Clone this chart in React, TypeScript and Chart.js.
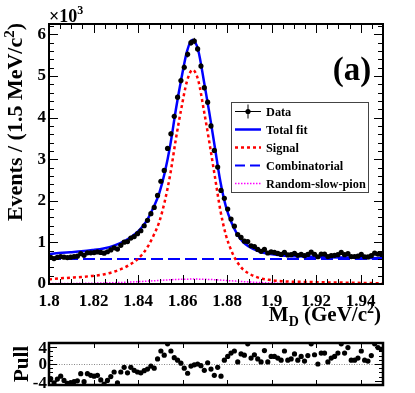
import React, { useEffect, useRef } from "react";
import { Chart, registerables } from "chart.js";

Chart.register(...registerables);

const FONT = "'Liberation Serif', 'Times New Roman', Times, serif";

const MASS_MIN = 1.8;
const MASS_MAX = 1.95;
const BIN_WIDTH = 0.0015;
const Y_MAX = 6.25;
const PULL_MIN = -5;
const PULL_MAX = 5;

const xTickValues = [1.8, 1.82, 1.84, 1.86, 1.88, 1.9, 1.92, 1.94];
const xTickLabels = ["1.8", "1.82", "1.84", "1.86", "1.88", "1.9", "1.92", "1.94"];
const yTickValues = [0, 1, 2, 3, 4, 5, 6];
const yTickLabels = ["0", "1", "2", "3", "4", "5", "6"];
const pullTickValues = [-4, 0, 4];
const pullTickLabels = ["-4", "0", "4"];

// Events per bin (x10^3), 100 bins of 1.5 MeV from 1.80 to 1.95 GeV
const dataEvents = [
  0.64, 0.61, 0.64, 0.66, 0.645, 0.635, 0.645, 0.66, 0.67, 0.73,
  0.69, 0.75, 0.75, 0.755, 0.77, 0.76, 0.74, 0.775, 0.82, 0.87,
  0.84, 0.93, 1.005, 1.02, 1.105, 1.14, 1.21, 1.28, 1.4, 1.53,
  1.69, 1.84, 2.13, 2.47, 2.73, 3.26, 3.61, 4.03, 4.49, 4.89,
  5.21, 5.52, 5.8, 5.84, 5.65, 5.24, 4.72, 4.37, 3.8, 3.21,
  2.81, 2.25, 2.06, 1.8, 1.56, 1.39, 1.19, 1.12, 1.03, 1.02,
  0.92, 0.9, 0.83, 0.785, 0.83, 0.745, 0.77, 0.76, 0.735, 0.71,
  0.76, 0.7, 0.705, 0.735, 0.69, 0.71, 0.68, 0.71, 0.765, 0.715,
  0.655, 0.72, 0.72, 0.66, 0.68, 0.69, 0.705, 0.76, 0.705, 0.73,
  0.66, 0.66, 0.67, 0.71, 0.655, 0.65, 0.68, 0.74, 0.72, 0.71,
];

const pullValues = [
  -3.5, -4.5, -3.6, -2.9, -3.9, -4.6, -4.4, -4.2, -4.0, -2.3,
  -4.2, -2.3, -2.7, -2.9, -2.7, -3.8, -4.8, -3.9, -3.0, -1.9,
  -4.5, -1.9, -0.8, -2.1, -0.8, -1.5, -1.9, -2.1, -1.6, -1.2,
  -0.5, -1.0, 1.2, 3.1, 2.1, 4.8, 3.1, 1.5, 0.9, 0.2,
  -1.0, -2.2, -0.5, -0.2, 0.0, -0.4, -1.5, 0.3, -1.2, -2.7,
  -0.8, -2.9, 0.9, 1.8, 2.6, 3.1, 0.5, 2.4, 2.1, 4.8,
  1.4, 2.2, 1.2, 0.5, 3.2, 0.5, 1.8, 1.8, 1.4, 0.9,
  3.1, 0.9, 1.2, 2.4, 0.9, 1.8, 0.7, 2.0, 4.8, 2.2,
  0.0, 2.6, 2.6, 0.5, 1.4, 1.8, 2.6, 4.8, 2.6, 3.9,
  0.9, 0.9, 1.4, 3.1, 0.9, 0.7, 2.0, 4.8, 3.9, 3.5,
];

const fitMass = [
  1.8, 1.8045, 1.8095, 1.8145, 1.8195, 1.8245, 1.8295, 1.8345, 1.8395, 1.842,
  1.8445, 1.847, 1.8495, 1.852, 1.8545, 1.857, 1.8595, 1.862, 1.8645, 1.867,
  1.8695, 1.872, 1.8745, 1.877, 1.8795, 1.882, 1.8845, 1.887, 1.8895, 1.8945,
  1.8995, 1.9045, 1.9145, 1.9245, 1.9345, 1.9445, 1.95,
];
const totalFit = [
  0.72, 0.745, 0.765, 0.785, 0.815, 0.855, 0.93, 1.05, 1.24, 1.38,
  1.58, 1.85, 2.18, 2.68, 3.35, 4.2, 4.95, 5.6, 5.87, 5.62,
  4.9, 4.12, 3.28, 2.45, 1.85, 1.47, 1.2, 1.02, 0.91, 0.78,
  0.72, 0.685, 0.66, 0.645, 0.635, 0.625, 0.62,
];
const signalFit = [
  0.11, 0.133, 0.151, 0.169, 0.195, 0.23, 0.3, 0.41, 0.585, 0.72,
  0.91, 1.17, 1.49, 1.99, 2.65, 3.49, 4.24, 4.88, 5.15, 4.9,
  4.19, 3.41, 2.58, 1.76, 1.165, 0.79, 0.53, 0.36, 0.26, 0.144,
  0.095, 0.067, 0.05, 0.039, 0.031, 0.022, 0.017,
];
const randomSlowPionFit = [
  0.01, 0.012, 0.014, 0.016, 0.02, 0.025, 0.032, 0.042, 0.055, 0.062,
  0.07, 0.078, 0.086, 0.094, 0.102, 0.108, 0.113, 0.116, 0.118, 0.117,
  0.114, 0.109, 0.102, 0.094, 0.085, 0.076, 0.067, 0.058, 0.05, 0.036,
  0.025, 0.018, 0.01, 0.006, 0.004, 0.003, 0.003,
];
const combMass = [1.8, 1.95];
const combinatorialFit = [0.6, 0.6];

const legendLabels = ["Data", "Total fit", "Signal", "Combinatorial", "Random-slow-pion"];

const binCenters = dataEvents.map((_, i) => MASS_MIN + BIN_WIDTH * (i + 0.5));

type Part = { text: string; size: number; dy?: number };

function drawRich(ctx: CanvasRenderingContext2D, parts: Part[], x: number, y: number, align: string) {
  let w = 0;
  for (const p of parts) {
    ctx.font = `bold ${p.size}px ${FONT}`;
    w += ctx.measureText(p.text).width;
  }
  let cx = align === "right" ? x - w : align === "center" ? x - w / 2 : x;
  ctx.textAlign = "left";
  ctx.textBaseline = "alphabetic";
  for (const p of parts) {
    ctx.font = `bold ${p.size}px ${FONT}`;
    ctx.fillText(p.text, cx, y + (p.dy || 0));
    cx += ctx.measureText(p.text).width;
  }
}

type FrameSpec = {
  xMajor: number[];
  xMinorStep: number;
  yMajor: number[];
  yMinorStep: number;
  xMajorLen: number;
  xMinorLen: number;
  yMajorLen: number;
  yMinorLen: number;
  frameWidth: number;
};

function makeFramePlugin(spec: FrameSpec) {
  return {
    id: "frameTicks",
    afterDatasetsDraw(chart: any) {
      const { ctx, chartArea: a } = chart;
      const xs = chart.scales.x;
      const ys = chart.scales.y;
      ctx.save();
      ctx.strokeStyle = "#000";
      ctx.lineWidth = 1;
      ctx.beginPath();
      const vTick = (v: number, len: number) => {
        const px = Math.round(xs.getPixelForValue(v)) + 0.5;
        if (px < a.left - 0.5 || px > a.right + 0.5) return;
        ctx.moveTo(px, a.bottom);
        ctx.lineTo(px, a.bottom - len);
        ctx.moveTo(px, a.top);
        ctx.lineTo(px, a.top + len);
      };
      const hTick = (v: number, len: number) => {
        const py = Math.round(ys.getPixelForValue(v)) + 0.5;
        if (py < a.top - 0.5 || py > a.bottom + 0.5) return;
        ctx.moveTo(a.left, py);
        ctx.lineTo(a.left + len, py);
        ctx.moveTo(a.right, py);
        ctx.lineTo(a.right - len, py);
      };
      if (spec.xMinorStep > 0) {
        for (let k = 0; ; k++) {
          const v = xs.min + k * spec.xMinorStep;
          if (v > xs.max + 1e-9) break;
          vTick(v, spec.xMinorLen);
        }
      }
      spec.xMajor.forEach((v) => vTick(v, spec.xMajorLen));
      if (spec.yMinorStep > 0) {
        for (let k = 0; ; k++) {
          const v = ys.min + k * spec.yMinorStep;
          if (v > ys.max + 1e-9) break;
          hTick(v, spec.yMinorLen);
        }
      }
      spec.yMajor.forEach((v) => hTick(v, spec.yMajorLen));
      ctx.stroke();
      ctx.lineWidth = spec.frameWidth;
      ctx.strokeRect(a.left, a.top, a.right - a.left, a.bottom - a.top);
      ctx.restore();
    },
  };
}

const errorBarPlugin = {
  id: "errorBars",
  beforeDatasetDraw(chart: any, args: any) {
    if (args.index !== 0) return;
    const { ctx } = chart;
    const ys = chart.scales.y;
    const meta = chart.getDatasetMeta(0);
    ctx.save();
    ctx.strokeStyle = "#000";
    ctx.lineWidth = 1;
    ctx.beginPath();
    meta.data.forEach((pt: any, i: number) => {
      const v = dataEvents[i];
      const err = Math.sqrt(v * 1000) / 1000;
      const y1 = ys.getPixelForValue(v + err);
      const y2 = ys.getPixelForValue(v - err);
      ctx.moveTo(pt.x, y1);
      ctx.lineTo(pt.x, y2);
    });
    ctx.stroke();
    ctx.restore();
  },
};

const mainTextPlugin = {
  id: "mainText",
  afterDraw(chart: any) {
    const ctx: CanvasRenderingContext2D = chart.ctx;
    ctx.save();
    ctx.fillStyle = "#000";
    // y title
    ctx.save();
    ctx.translate(22, 23);
    ctx.rotate(-Math.PI / 2);
    drawRich(
      ctx,
      [
        { text: "Events / (1.5 MeV/c", size: 22 },
        { text: "2", size: 15, dy: -8 },
        { text: ")", size: 22 },
      ],
      0,
      0,
      "right"
    );
    ctx.restore();
    // x title
    drawRich(
      ctx,
      [
        { text: "M", size: 21 },
        { text: "D", size: 14, dy: 5 },
        { text: " (GeV/c", size: 21 },
        { text: "2", size: 14, dy: -8 },
        { text: ")", size: 21 },
      ],
      381,
      321,
      "right"
    );
    // exponent
    drawRich(
      ctx,
      [
        { text: "\u00d710", size: 18 },
        { text: "3", size: 12, dy: -8 },
      ],
      49,
      22,
      "left"
    );
    // panel label
    drawRich(ctx, [{ text: "(a)", size: 33 }], 352, 80, "center");

    // legend
    const lx = 231.5, ly = 102.5, lw = 137, lh = 90;
    ctx.fillStyle = "#fff";
    ctx.fillRect(lx, ly, lw, lh);
    ctx.strokeStyle = "#444";
    ctx.lineWidth = 1;
    ctx.strokeRect(lx, ly, lw, lh);
    const sx0 = 235, sx1 = 261;
    legendLabels.forEach((label, k) => {
      const cy = 111.5 + 18 * k;
      ctx.save();
      ctx.setLineDash([]);
      if (k === 0) {
        ctx.strokeStyle = "#000";
        ctx.lineWidth = 1;
        ctx.beginPath();
        ctx.moveTo(sx0, cy);
        ctx.lineTo(sx1, cy);
        ctx.moveTo((sx0 + sx1) / 2, cy - 7);
        ctx.lineTo((sx0 + sx1) / 2, cy + 7);
        ctx.stroke();
        ctx.fillStyle = "#000";
        ctx.beginPath();
        ctx.arc((sx0 + sx1) / 2, cy, 2.6, 0, Math.PI * 2);
        ctx.fill();
      } else {
        if (k === 1) { ctx.strokeStyle = "#0000ff"; ctx.lineWidth = 2.5; }
        if (k === 2) { ctx.strokeStyle = "#ff0000"; ctx.lineWidth = 2.5; ctx.setLineDash([3, 3]); }
        if (k === 3) { ctx.strokeStyle = "#0000ff"; ctx.lineWidth = 2; ctx.setLineDash([10, 5]); }
        if (k === 4) { ctx.strokeStyle = "#ff00ff"; ctx.lineWidth = 1.5; ctx.setLineDash([1.5, 1.5]); }
        ctx.beginPath();
        ctx.moveTo(sx0, cy);
        ctx.lineTo(sx1, cy);
        ctx.stroke();
      }
      ctx.restore();
      ctx.fillStyle = "#000";
      ctx.font = `bold 12.3px ${FONT}`;
      ctx.textAlign = "left";
      ctx.textBaseline = "middle";
      ctx.fillText(label, 266, cy + 1);
    });
    ctx.restore();
  },
};

const pullTextPlugin = {
  id: "pullText",
  beforeDatasetsDraw(chart: any) {
    const { ctx, chartArea: a } = chart;
    const ys = chart.scales.y;
    const py = Math.round(ys.getPixelForValue(0)) + 0.5;
    ctx.save();
    ctx.strokeStyle = "#888";
    ctx.lineWidth = 1;
    ctx.setLineDash([1, 1.5]);
    ctx.beginPath();
    ctx.moveTo(a.left, py);
    ctx.lineTo(a.right, py);
    ctx.stroke();
    ctx.restore();
  },
  afterDraw(chart: any) {
    const ctx: CanvasRenderingContext2D = chart.ctx;
    const ys = chart.scales.y;
    const a = chart.chartArea;
    ctx.save();
    ctx.fillStyle = "#000";
    ctx.font = `bold 17px ${FONT}`;
    ctx.textAlign = "right";
    ctx.textBaseline = "middle";
    pullTickValues.forEach((v, i) => {
      ctx.fillText(pullTickLabels[i], a.left - 2, ys.getPixelForValue(v) + (v < 0 ? 3 : 1));
    });
    ctx.translate(28, 32);
    ctx.rotate(-Math.PI / 2);
    drawRich(ctx, [{ text: "Pull", size: 21 }], 0, 0, "center");
    ctx.restore();
  },
};

const tickFont = { family: FONT, size: 17, weight: "bold" as const };

export default function App() {
  const mainRef = useRef<HTMLCanvasElement>(null);
  const pullRef = useRef<HTMLCanvasElement>(null);

  useEffect(() => {
    const mainChart = new Chart(mainRef.current as HTMLCanvasElement, {
      type: "scatter",
      data: {
        datasets: [
          {
            label: "Data",
            data: binCenters.map((m, i) => ({ x: m, y: dataEvents[i] })),
            showLine: false,
            pointRadius: 2.6,
            pointBackgroundColor: "#000",
            pointBorderColor: "#000",
            pointBorderWidth: 0,
          },
          {
            label: "Total fit",
            data: fitMass.map((m, i) => ({ x: m, y: totalFit[i] })),
            showLine: true,
            pointRadius: 0,
            borderColor: "#0000ff",
            borderWidth: 2.5,
            cubicInterpolationMode: "monotone",
          },
          {
            label: "Signal",
            data: fitMass.map((m, i) => ({ x: m, y: signalFit[i] })),
            showLine: true,
            pointRadius: 0,
            borderColor: "#ff0000",
            borderWidth: 2.5,
            borderDash: [3, 3],
            cubicInterpolationMode: "monotone",
          },
          {
            label: "Combinatorial",
            data: combMass.map((m, i) => ({ x: m, y: combinatorialFit[i] })),
            showLine: true,
            pointRadius: 0,
            borderColor: "#0000ff",
            borderWidth: 2,
            borderDash: [12, 5],
          },
          {
            label: "Random-slow-pion",
            data: fitMass.map((m, i) => ({ x: m, y: randomSlowPionFit[i] })),
            showLine: true,
            pointRadius: 0,
            borderColor: "#ff00ff",
            borderWidth: 1.5,
            borderDash: [1.5, 1.5],
            cubicInterpolationMode: "monotone",
          },
        ] as any,
      },
      options: {
        animation: false,
        responsive: false,
        devicePixelRatio: 1,
        layout: { padding: { top: 24, right: 32, left: 0, bottom: 0 } },
        plugins: { legend: { display: false }, tooltip: { enabled: false } },
        scales: {
          x: {
            type: "linear",
            min: MASS_MIN,
            max: MASS_MAX,
            grid: { display: false, drawTicks: false },
            border: { display: false },
            afterBuildTicks: (s: any) => {
              s.ticks = xTickValues.map((v) => ({ value: v }));
            },
            afterFit: (s: any) => {
              s.height = 48;
            },
            ticks: {
              autoSkip: false,
              maxRotation: 0,
              padding: 7,
              color: "#000",
              font: tickFont,
              callback: (_v: any, i: number) => xTickLabels[i],
            },
          },
          y: {
            type: "linear",
            min: 0,
            max: Y_MAX,
            grid: { display: false, drawTicks: false },
            border: { display: false },
            afterBuildTicks: (s: any) => {
              s.ticks = yTickValues.map((v) => ({ value: v }));
            },
            afterFit: (s: any) => {
              s.width = 49;
            },
            ticks: {
              autoSkip: false,
              padding: 3,
              color: "#000",
              font: tickFont,
              callback: (_v: any, i: number) => yTickLabels[i],
            },
          },
        },
      } as any,
      plugins: [
        errorBarPlugin,
        makeFramePlugin({
          xMajor: xTickValues,
          xMinorStep: 0.005,
          yMajor: yTickValues,
          yMinorStep: 0.2,
          xMajorLen: 9,
          xMinorLen: 5,
          yMajorLen: 9,
          yMinorLen: 5,
          frameWidth: 2,
        }),
        mainTextPlugin,
      ],
    });

    const pullChart = new Chart(pullRef.current as HTMLCanvasElement, {
      type: "scatter",
      data: {
        datasets: [
          {
            label: "Pull",
            data: binCenters.map((m, i) => ({ x: m, y: pullValues[i] })),
            showLine: false,
            pointRadius: 2.6,
            pointBackgroundColor: "#000",
            pointBorderColor: "#000",
            pointBorderWidth: 0,
          },
        ],
      },
      options: {
        animation: false,
        responsive: false,
        devicePixelRatio: 1,
        layout: { padding: { top: 11, right: 32, left: 49, bottom: 8 } },
        plugins: { legend: { display: false }, tooltip: { enabled: false } },
        scales: {
          x: {
            type: "linear",
            display: false,
            min: MASS_MIN,
            max: MASS_MAX,
          },
          y: {
            type: "linear",
            display: false,
            min: PULL_MIN,
            max: PULL_MAX,
          },
        },
      } as any,
      plugins: [
        pullTextPlugin,
        makeFramePlugin({
          xMajor: xTickValues,
          xMinorStep: 0,
          yMajor: pullTickValues,
          yMinorStep: 1,
          xMajorLen: 5,
          xMinorLen: 0,
          yMajorLen: 8,
          yMinorLen: 4,
          frameWidth: 2.5,
        }),
      ],
    });

    return () => {
      mainChart.destroy();
      pullChart.destroy();
    };
  }, []);

  return (
    <div style={{ position: "fixed", left: 0, top: 0, width: 415, height: 393, background: "#fff" }}>
      <canvas
        ref={mainRef}
        width={415}
        height={332}
        style={{ position: "absolute", left: 0, top: 0, width: 415, height: 332 }}
      />
      <canvas
        ref={pullRef}
        width={415}
        height={61}
        style={{ position: "absolute", left: 0, top: 332, width: 415, height: 61 }}
      />
    </div>
  );
}
